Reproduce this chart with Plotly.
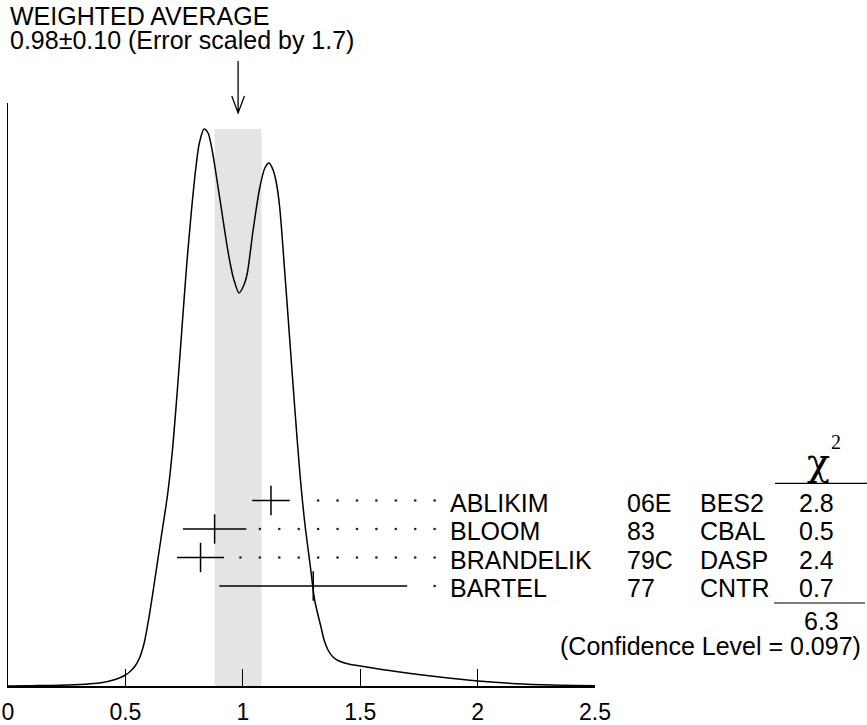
import plotly.graph_objects as go

# weighted average of the measurements
AVG = 0.98
AVG_ERR = 0.10
ERR_SCALE = 1.7

# measurements, top row first
names = ["ABLIKIM", "BLOOM", "BRANDELIK", "BARTEL"]
docs = ["06E", "83", "79C", "77"]
techs = ["BES2", "CBAL", "DASP", "CNTR"]
values = [1.12, 0.88, 0.82, 1.30]
errors = [0.08, 0.135, 0.10, 0.40]
chi2 = [2.8, 0.5, 2.4, 0.7]
chi2_total = 6.3
conf_level = 0.097

# ideogram curve (height in arbitrary units)
curve_x = [0.00, 0.10, 0.22, 0.39, 0.46, 0.50, 0.52, 0.54, 0.56, 0.58, 0.60,
           0.62, 0.65, 0.68, 0.70, 0.72, 0.74, 0.76, 0.78, 0.80, 0.815,
           0.835, 0.852, 0.870, 0.888, 0.916, 0.931, 0.945, 0.960, 0.984, 1.008,
           1.020, 1.044, 1.072, 1.094, 1.112, 1.129, 1.143, 1.157, 1.179, 1.200,
           1.221, 1.243, 1.264, 1.288, 1.306, 1.335, 1.345, 1.363, 1.384, 1.41,
           1.45, 1.50, 1.668, 1.838, 2.003, 2.164, 2.32, 2.50]
curve_y = [0.0, 0.3, 0.7, 3, 6.7, 11, 14.5, 19.5, 28, 43, 68,
           98, 145, 192, 235, 292, 355, 418, 472, 518, 543,
           557, 553, 535, 509, 466, 443, 424, 408, 393, 403,
           414, 456, 498, 518, 523, 516, 503, 479, 413, 346,
           279, 213, 163, 119, 86, 57, 47, 36, 29, 25,
           22, 20, 14, 9, 5, 2.3, 1.0, 0.3]

tick_vals = [0, 0.5, 1, 1.5, 2, 2.5]
tick_text = ["0", "0.5", "1", "1.5", "2", "2.5"]

FONT = "Liberation Sans, Arial, Helvetica, sans-serif"
SERIF = "Liberation Serif, Times New Roman, serif"
X_MAX = 2.5
Y_MAX = 583
ROW0 = 185.5
ROW_STEP = 28.5
row_y = [ROW0 - i * ROW_STEP for i in range(len(names))]

# dotted leaders between the error bars and the labels
DOT_END = 1.817
DOT_STEP = 0.0827
DOT_GAP = 0.045
dot_x, dot_y = [], []
for v, e, y in zip(values, errors, row_y):
    x = DOT_END
    while x > v + e + DOT_GAP:
        dot_x.append(x)
        dot_y.append(y)
        x -= DOT_STEP

fig = go.Figure()

fig.add_trace(go.Scatter(x=curve_x, y=curve_y, mode="lines",
                         line=dict(color="black", width=1.5, shape="spline", smoothing=0.8),
                         hoverinfo="skip"))
fig.add_trace(go.Scatter(x=dot_x, y=dot_y, mode="markers",
                         marker=dict(symbol="circle", size=2.6, color="#222"),
                         hoverinfo="skip"))
fig.add_trace(go.Scatter(x=values, y=row_y, mode="markers",
                         marker=dict(symbol="line-ns", size=21,
                                     line=dict(color="black", width=1.5)),
                         error_x=dict(type="data", array=errors, width=0,
                                      thickness=1.5, color="black"),
                         hovertemplate="%{x} ± %{error_x.array}<extra></extra>"))

# error band of the weighted average
fig.add_shape(type="rect", xref="x", yref="y", x0=AVG - AVG_ERR, x1=AVG + AVG_ERR,
              y0=0, y1=max(curve_y), fillcolor="#e4e4e4", line=dict(width=0), layer="below")

# arrow pointing at the average
fig.add_shape(type="path", xref="x", yref="paper",
              path=f"M {AVG},1.072 L {AVG},0.983 M {AVG - 0.027},1.012 L {AVG},0.983 L {AVG + 0.027},1.012",
              line=dict(color="black", width=1.3))

ann = []
ann.append(dict(text="WEIGHTED AVERAGE", x=0, y=1.149))
ann.append(dict(text=f"{AVG:.2f}±{AVG_ERR:.2f} (Error scaled by {ERR_SCALE})", x=0, y=1.108))
for a in ann:
    a.update(xref="paper", yref="paper", xanchor="left", yanchor="middle", showarrow=False,
             font=dict(family=FONT, size=25, color="black"))

for i, y in enumerate(row_y):
    for txt, x, anchor in [(names[i], 0.7496, "left"), (docs[i], 1.0511, "left"),
                           (techs[i], 1.175, "left"), (f"{chi2[i]:.1f}", 1.378, "center")]:
        ann.append(dict(text=txt, x=x, y=y - 2, xref="paper", yref="y", xanchor=anchor,
                        yanchor="middle", showarrow=False,
                        font=dict(family=FONT, size=25, color="black")))

ann.append(dict(text=f"{chi2_total:.1f}", x=1.386, y=65.5, xref="paper", yref="y",
                xanchor="center", yanchor="middle", showarrow=False,
                font=dict(family=FONT, size=25, color="black")))
ann.append(dict(text=f"(Confidence Level = {conf_level})", x=1.4566, y=40, xref="paper", yref="y",
                xanchor="right", yanchor="middle", showarrow=False,
                font=dict(family=FONT, size=25, color="black")))
ann.append(dict(text="χ", x=1.380, y=224, xref="paper", yref="y", xanchor="center",
                yanchor="middle", showarrow=False, font=dict(family="DejaVu Serif", size=38, color="black")))
ann.append(dict(text="2", x=1.4114, y=244, xref="paper", yref="y", xanchor="center",
                yanchor="middle", showarrow=False, font=dict(family=SERIF, size=20, color="black")))

# lines above and below the chi2 column
fig.add_shape(type="line", xref="paper", yref="y", x0=1.3066, x1=1.4634,
              y0=row_y[0] + 17.2, y1=row_y[0] + 17.2, line=dict(color="black", width=1.2))
fig.add_shape(type="line", xref="paper", yref="y", x0=1.305, x1=1.46,
              y0=row_y[-1] - 17, y1=row_y[-1] - 17, line=dict(color="black", width=1.2))

fig.update_layout(
    template="none",
    width=867, height=725,
    margin=dict(l=8, r=272, t=103, b=39, autoexpand=False),
    paper_bgcolor="white", plot_bgcolor="white",
    showlegend=False,
    annotations=ann,
    xaxis=dict(range=[0, X_MAX], tickvals=tick_vals, ticktext=tick_text,
               ticks="inside", ticklen=17, tickwidth=1.3, tickcolor="black",
               showline=True, linewidth=2, linecolor="black", automargin=False,
               showgrid=False, zeroline=False, ticklabelstandoff=4,
               tickfont=dict(family=FONT, size=23, color="black")),
    yaxis=dict(range=[0, Y_MAX], showline=True, linewidth=1.3, linecolor="black",
               automargin=False, showticklabels=False, ticks="", showgrid=False,
               zeroline=False),
)

# drop the page's default body margin so the figure sits at the window corner
fig.write_html("out.html", config={"displayModeBar": False},
               post_script="document.body.style.margin='0';")
